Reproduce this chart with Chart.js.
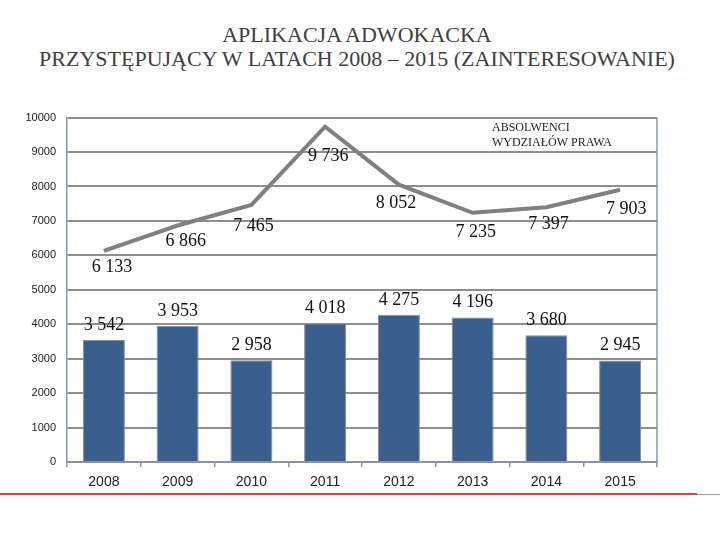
<!DOCTYPE html>
<html><head><meta charset="utf-8">
<script src="https://cdn.jsdelivr.net/npm/chart.js@4"></script>
<style>
html,body{margin:0;padding:0;background:#fff;width:720px;height:540px;overflow:hidden;}
#title{position:absolute;left:0;top:23px;width:714px;text-align:center;font:22px "Liberation Serif",serif;color:#404040;line-height:24px;}
#wrap{position:absolute;left:0;top:100px;width:720px;height:420px;}
#red{position:absolute;left:0;top:493px;width:697px;height:2px;background:#c0504d;}
#gray{position:absolute;left:697px;top:494px;width:23px;height:1px;background:#999;}
</style></head><body>
<div id="title">APLIKACJA ADWOKACKA<br>PRZYSTĘPUJĄCY W LATACH 2008 – 2015 (ZAINTERESOWANIE)</div>
<div id="wrap"><canvas id="c" width="720" height="420"></canvas></div>
<div id="red"></div><div id="gray"></div>
<script>
const years = ['2008','2009','2010','2011','2012','2013','2014','2015'];
const applicants = [3542, 3953, 2958, 4018, 4275, 4196, 3680, 2945];
const graduates = [6133, 6866, 7465, 9736, 8052, 7235, 7397, 7903];
const graduatesLabel = ['ABSOLWENCI', 'WYDZIAŁÓW PRAWA'];

function fmt(v){ return String(v).replace(/\B(?=(\d{3})+(?!\d))/g, ' '); }

const lineLabelOffsets = [[8,16],[8,16],[2,21],[3,30],[-3,19],[3,19],[2,17],[6,19]];

const labelPlugin = {
  id: 'labels',
  afterDatasetsDraw(chart) {
    const ctx = chart.ctx;
    const area = chart.chartArea;
    ctx.save();
    ctx.strokeStyle = '#8497B0';
    ctx.lineWidth = 1.5;
    ctx.beginPath();
    ctx.moveTo(area.right, area.top);
    ctx.lineTo(area.right, area.bottom);
    ctx.stroke();
    ctx.fillStyle = '#111';
    ctx.font = '18px "Liberation Serif", serif';
    ctx.textAlign = 'center';
    ctx.textBaseline = 'middle';
    const barMeta = chart.getDatasetMeta(0);
    barMeta.data.forEach((el, i) => {
      ctx.fillText(fmt(applicants[i]), el.x, el.y - 15);
    });
    const lineMeta = chart.getDatasetMeta(1);
    lineMeta.data.forEach((el, i) => {
      const o = lineLabelOffsets[i];
      ctx.fillText(fmt(graduates[i]), el.x + o[0], el.y + o[1]);
    });
    ctx.font = '12px "Liberation Serif", serif';
    ctx.textAlign = 'left';
    ctx.fillStyle = '#222';
    ctx.fillText(graduatesLabel[0], area.right - 165, area.top + 10);
    ctx.fillText(graduatesLabel[1], area.right - 165, area.top + 25);
    ctx.restore();
  }
};

new Chart(document.getElementById('c'), {
  data: {
    labels: years,
    datasets: [
      { type: 'bar', label: 'Przystępujący', data: applicants, backgroundColor: '#3A5F8F',
        borderColor: '#8a8a8a', borderWidth: 1, barPercentage: 0.57, categoryPercentage: 1, order: 2 },
      { type: 'line', label: graduatesLabel.join(' '), data: graduates, borderColor: '#808080',
        borderWidth: 4, pointRadius: 0, tension: 0, fill: false, order: 1 }
    ]
  },
  options: {
    responsive: false,
    animation: false,
    layout: { padding: { top: 17, right: 63, left: 0, bottom: 0 } },
    plugins: { legend: { display: false }, title: { display: false }, tooltip: { enabled: false } },
    scales: {
      x: {
        offset: true,
        grid: { offset: true, drawOnChartArea: false, drawTicks: true, tickLength: 5, color: '#8497B0', lineWidth: 1.5 },
        border: { color: '#8497B0', width: 1.5 },
        ticks: { color: '#222', font: { family: '"Liberation Sans", Arial, sans-serif', size: 14 }, padding: 7 },
        afterFit(s) { s.height = 58; }
      },
      y: {
        min: 0, max: 10000,
        ticks: { stepSize: 1000, color: '#222', padding: 11, callback: v => String(v),
                 font: { family: '"Liberation Sans", Arial, sans-serif', size: 11 } },
        grid: { color: '#8f8f8f', lineWidth: 2, drawTicks: false },
        border: { color: '#8497B0', width: 1.5 },
        afterFit(s) { s.width = 67; }
      }
    }
  },
  plugins: [labelPlugin]
});
</script>
</body></html>
